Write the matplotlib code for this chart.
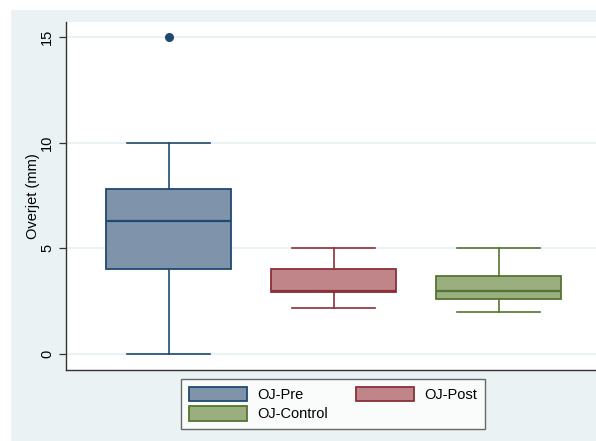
import matplotlib
matplotlib.use("Agg")
import matplotlib.pyplot as plt
from matplotlib.patches import Rectangle, Patch

plt.rcParams['font.family'] = ['Liberation Sans', 'DejaVu Sans']

groups = ["OJ-Pre", "OJ-Post", "OJ-Control"]
whislo = [0.0, 2.2, 2.0]
q1 = [4.0, 2.95, 2.6]
med = [6.3, 3.0, 3.0]
q3 = [7.8, 4.0, 3.7]
whishi = [10.0, 5.0, 5.0]
fliers = [[15.0], [], []]
yticks = [0, 5, 10, 15]

fill_colors = ["#7f93aa", "#bf8589", "#9aae80"]
edge_colors = ["#1f4a70", "#8c2f39", "#55752f"]

W, H = 596, 441
fig = plt.figure(figsize=(W / 100, H / 100), dpi=100)
fig.patch.set_facecolor("white")
fig.add_artist(Rectangle((11 / W, 0), 1 - 11 / W, (H - 10) / H,
                         transform=fig.transFigure, facecolor="#eaf2f3",
                         edgecolor="none", zorder=0))

ax = fig.add_axes([66 / W, (H - 370) / H, 1 - 66 / W, (370 - 22) / H])
ax.set_facecolor("white")

stats = []
for i, g in enumerate(groups):
    stats.append(dict(label=g, whislo=whislo[i], q1=q1[i], med=med[i],
                      q3=q3[i], whishi=whishi[i], fliers=fliers[i]))

positions = [1, 2, 3]
for i, s in enumerate(stats):
    ax.bxp([s], positions=[positions[i]], widths=0.757, patch_artist=True,
           showfliers=True,
           boxprops=dict(facecolor=fill_colors[i], edgecolor=edge_colors[i], linewidth=1.3),
           medianprops=dict(color=edge_colors[i], linewidth=1.6),
           whiskerprops=dict(color=edge_colors[i], linewidth=1.2),
           capprops=dict(color=edge_colors[i], linewidth=1.2),
           capwidths=0.5,
           flierprops=dict(marker="o", markerfacecolor=edge_colors[i],
                           markeredgecolor=edge_colors[i], markersize=5.5),
           zorder=3)

ax.set_xlim(0.378, 3.59)
ax.set_ylim(-0.757, 15.71)
ax.set_xticks([])
ax.set_yticks(yticks)
ax.set_yticklabels([str(t) for t in yticks], rotation=90, va="center", fontsize=10.5)
ax.tick_params(axis="y", length=5, width=0.9, color="#333333", pad=3.5)
ax.grid(axis="y", color="#eaf2f3", linewidth=1.4, zorder=0)
ax.set_axisbelow(True)
for sp in ["top", "right"]:
    ax.spines[sp].set_visible(False)
for sp in ["left", "bottom"]:
    ax.spines[sp].set_color("#333333")
    ax.spines[sp].set_linewidth(1.0)
ax.set_ylabel("Overjet (mm)", fontsize=10.5, labelpad=0)

handles = [Patch(facecolor=fill_colors[i], edgecolor=edge_colors[i], linewidth=1.3, label=groups[i])
           for i in range(3)]
order = [0, 2, 1]
leg = fig.legend([handles[i] for i in order], [groups[i] for i in order],
                 ncol=2, loc="center", bbox_to_anchor=(333 / W, 37 / H),
                 fontsize=10.5, frameon=True, fancybox=False,
                 handlelength=4.0, handleheight=1.15, columnspacing=1.9,
                 handletextpad=0.7, labelspacing=0.3, borderpad=0.5,
                 borderaxespad=0)
leg.get_frame().set_edgecolor("#444444")
leg.get_frame().set_linewidth(1.0)

fig.savefig("out.png", dpi=100, facecolor=fig.get_facecolor())
